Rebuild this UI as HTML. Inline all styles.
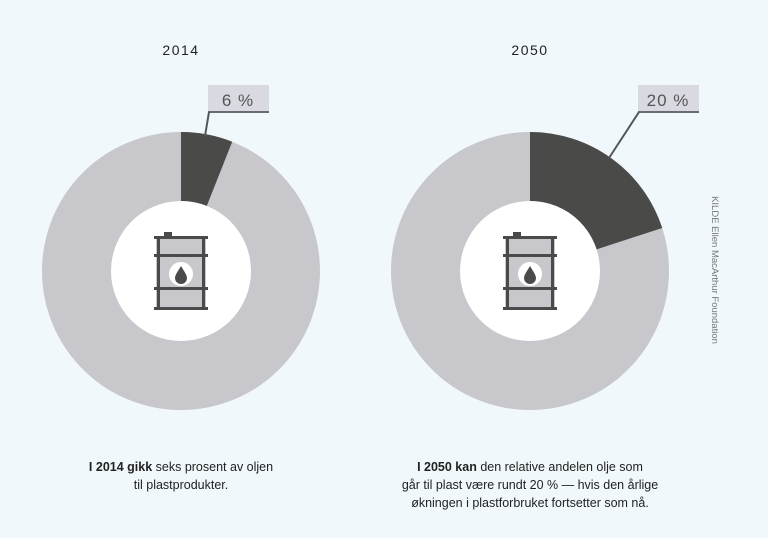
<!DOCTYPE html>
<html><head><meta charset="utf-8"><style>
body{margin:0;width:768px;height:538px;background:#f1f8fc;overflow:hidden;font-family:"Liberation Sans",sans-serif;}
</style></head><body>
<svg width="768" height="538" xmlns="http://www.w3.org/2000/svg" style="position:absolute;left:0;top:0">
<defs>
<g id="barrel">
  <rect x="-25" y="-35" width="50" height="72" fill="#c8c8cc"/>
  <rect x="-17" y="-40" width="8" height="5" fill="#4a4a4a"/>
  <rect x="-27" y="-36" width="54" height="3" fill="#4a4a4a"/>
  <rect x="-27" y="-18" width="54" height="3" fill="#4a4a4a"/>
  <rect x="-27" y="15" width="54" height="3" fill="#4a4a4a"/>
  <rect x="-27" y="35" width="54" height="3" fill="#4a4a4a"/>
  <rect x="-24" y="-35" width="3" height="72" fill="#4a4a4a"/>
  <rect x="21" y="-35" width="3" height="72" fill="#4a4a4a"/>
  <circle cx="0" cy="2" r="12" fill="#fff"/>
  <path d="M0,-6 C3,-1 6,3 6,6 A6,6 0 0 1 -6,6 C-6,3 -3,-1 0,-6Z" fill="#4a4a4a"/>
</g>
</defs>
<text x="181" y="55" text-anchor="middle" font-size="14" letter-spacing="1.5" fill="#222">2014</text>
<text x="530" y="55" text-anchor="middle" font-size="14" letter-spacing="1.5" fill="#222">2050</text>

<circle cx="181" cy="271" r="139" fill="#c8c8cc"/>
<path d="M181,132 A139,139 0 0 1 232.2,141.7 L206.8,205.9 A70,70 0 0 0 181,201Z" fill="#4a4a48"/>
<circle cx="181" cy="271" r="70" fill="#fff"/>
<use href="#barrel" x="181" y="272"/>

<circle cx="530" cy="271" r="139" fill="#c8c8cc"/>
<path d="M530,132 A139,139 0 0 1 662.2,228 L596.6,249.4 A70,70 0 0 0 530,201Z" fill="#4a4a48"/>
<circle cx="530" cy="271" r="70" fill="#fff"/>
<use href="#barrel" x="530" y="272"/>

<rect x="208" y="85" width="61" height="27" fill="#d8d9e1"/>
<rect x="208" y="111" width="61" height="2" fill="#6a6b72"/>
<line x1="209" y1="112" x2="205" y2="136" stroke="#55565c" stroke-width="2"/>
<text x="238" y="106" text-anchor="middle" font-size="17" letter-spacing="1" fill="#555">6 %</text>

<rect x="638" y="85" width="61" height="27" fill="#d8d9e1"/>
<rect x="638" y="111" width="61" height="2" fill="#6a6b72"/>
<line x1="639" y1="112" x2="609" y2="158" stroke="#55565c" stroke-width="2"/>
<text x="668" y="106" text-anchor="middle" font-size="17" letter-spacing="1" fill="#555">20 %</text>

<text transform="translate(712,270) rotate(90)" text-anchor="middle" font-size="9.5" fill="#777">KILDE Ellen MacArthur Foundation</text>

<g font-size="12.5" fill="#222" text-anchor="middle">
<text x="181" y="471"><tspan font-weight="bold">I 2014 gikk</tspan> seks prosent av oljen</text>
<text x="181" y="489">til plastprodukter.</text>
<text x="530" y="471"><tspan font-weight="bold">I 2050 kan</tspan> den relative andelen olje som</text>
<text x="530" y="489">går til plast være rundt 20 % — hvis den årlige</text>
<text x="530" y="507">økningen i plastforbruket fortsetter som nå.</text>
</g>
</svg>
</body></html>
